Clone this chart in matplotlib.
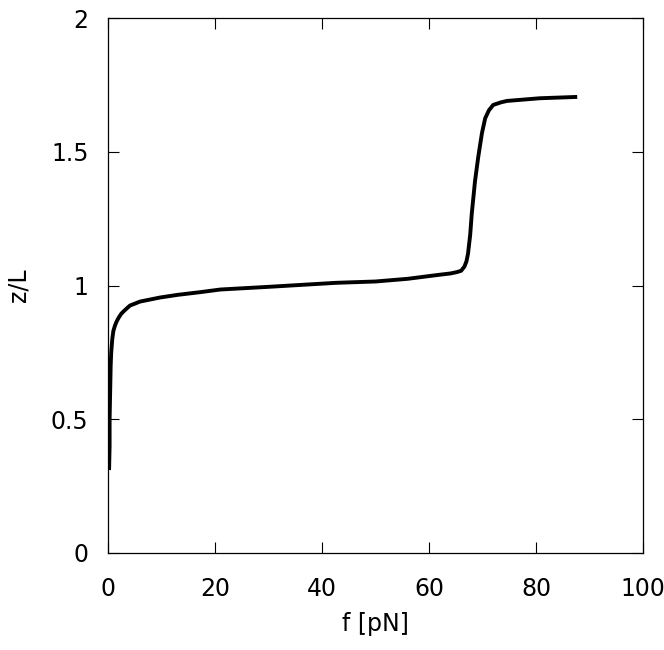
import numpy as np
import matplotlib
matplotlib.use("Agg")
import matplotlib.pyplot as plt

# force f [pN] and relative extension z/L
force = [0.2, 0.3, 0.3, 0.4, 0.5, 0.6, 0.8, 1.0, 1.3, 1.6, 2.0, 2.5, 3.0,
         4.1, 6.0, 9.7, 13.0, 17.2, 21.0, 30.0, 42.6, 50.0, 56.0, 61.9,
         64.0, 65.2, 66.0, 66.6, 67.0, 67.3, 67.7, 68.0, 68.6, 69.2, 69.9,
         70.5, 71.2, 72.0, 73.5, 74.6, 80.7, 87.7]
ext = [0.31, 0.40, 0.50, 0.60, 0.70, 0.75, 0.80, 0.83, 0.85, 0.865, 0.88,
       0.895, 0.905, 0.925, 0.94, 0.955, 0.965, 0.975, 0.985, 0.995, 1.01,
       1.015, 1.025, 1.04, 1.045, 1.05, 1.055, 1.07, 1.09, 1.12, 1.19,
       1.27, 1.39, 1.48, 1.57, 1.625, 1.655, 1.675, 1.685, 1.69, 1.70,
       1.705]

xticks = [0, 20, 40, 60, 80, 100]
yticks = [0, 0.5, 1, 1.5, 2]
yticklabels = ["0", "0.5", "1", "1.5", "2"]

plt.rcParams['font.family'] = ['DejaVu Sans']
fig = plt.figure(figsize=(6.64, 6.50), dpi=100)
ax = fig.add_axes([108/664, 1-553/650, 535/664, 535/650])

ax.plot(force, ext, color='black', lw=2.8, solid_capstyle='butt',
        solid_joinstyle='round')

ax.set_xlim(0, 100)
ax.set_ylim(0, 2)
ax.set_xticks(xticks)
ax.set_yticks(yticks)
ax.set_yticklabels(yticklabels)
ax.tick_params(direction='in', length=8, width=0.8, top=True, right=True,
               labelsize=17, pad=14)
ax.tick_params(axis='x', pad=17)
for s in ax.spines.values():
    s.set_linewidth(0.9)

ax.set_xlabel("f [pN]", fontsize=17, labelpad=8)
ax.set_ylabel("z/L", fontsize=17, labelpad=15)

fig.savefig("out.png", dpi=100)
